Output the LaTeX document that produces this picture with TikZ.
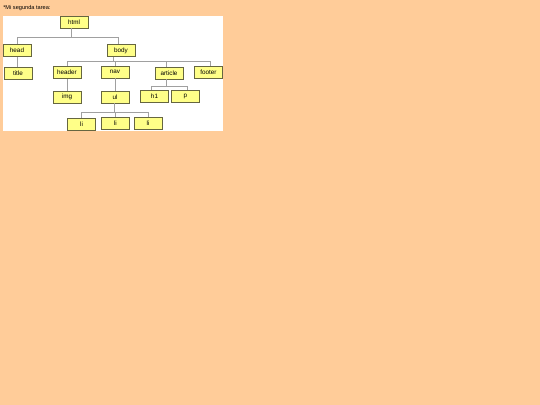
\documentclass[tikz,border=0pt]{standalone}
\usepackage{fontspec}
\setmainfont{Liberation Sans}
\usepackage{tikz}
\usetikzlibrary{positioning,calc}

\definecolor{pagebg}{HTML}{FFCC99}
\definecolor{boxfill}{HTML}{FFFF88}
\definecolor{boxline}{HTML}{666640}
\definecolor{edgegray}{HTML}{A0A0A0}

\begin{document}
\begin{tikzpicture}[
    x=0.025cm, y=-0.025cm,
    tag/.style={rectangle, draw=boxline, fill=boxfill, line width=0.7pt, minimum width=0.7cm, minimum height=0.3cm, inner sep=0pt, text centered, font=\fontsize{4.5}{5}\selectfont},
    edge/.style={draw=edgegray, line width=0.4pt}
]
    % Page and panel
    \fill[pagebg] (0,0) rectangle (540,405);
    \useasboundingbox (0,0) rectangle (540,405);
    \fill[white] (3,16) rectangle (223,131);
    \node[anchor=west, inner sep=0pt, font=\fontsize{4}{5}\selectfont] (caption) at (3,8) {*Mi segunda tarea:};

    % Tags
    \node[tag] (html) at (74,22) {html};
    \node[tag] (head) at (17,50.5) {head};
    \node[tag] (body) at (121,50.5) {body};
    \node[tag] (title) at (18,73.5) {title};
    \node[tag] (header) at (67,72.5) {header};
    \node[tag] (nav) at (115,72) {nav};
    \node[tag] (article) at (169,73) {article};
    \node[tag] (footer) at (208.5,72) {footer};
    \node[tag] (img) at (67,97) {img};
    \node[tag] (ul) at (115,97) {ul};
    \node[tag] (h1) at (154.5,96.5) {h1};
    \node[tag] (p) at (185.5,96.5) {p};
    \node[tag] (li1) at (81.5,124) {li};
    \node[tag] (li2) at (115.5,123.5) {li};
    \node[tag] (li3) at (148,123.5) {li};

    % Connectors
    \draw[edge] ($(html.south)+(-3,0)$) -- ++(0,9) coordinate (hj);
    \draw[edge] (hj) -| (head.north);
    \draw[edge] (hj) -| ($(body.north)+(-3,0)$);
    \draw[edge] (head.south) -- (title.north -| head.south);
    \draw[edge] ($(body.south)+(-8,0)$) -- ++(0,4.5) coordinate (bj);
    \draw[edge] (bj) -| (header.north);
    \draw[edge] (bj) -| (nav.north);
    \draw[edge] (bj) -| ($(article.north)+(-3,0)$);
    \draw[edge] (bj) -| ($(footer.north)+(1.5,0)$);
    \draw[edge] (header.south) -- (img.north);
    \draw[edge] (nav.south) -- (ul.north);
    \draw[edge] ($(article.south)+(-3,0)$) -- ++(0,6.5) coordinate (aj);
    \draw[edge] (aj) -| ($(h1.north)+(-3,0)$);
    \draw[edge] (aj) -| ($(p.north)+(1.5,0)$);
    \draw[edge] ($(ul.south)+(-1,0)$) -- ++(0,9) coordinate (uj);
    \draw[edge] (uj) -| (li1.north);
    \draw[edge] (uj) -| (li2.north);
    \draw[edge] (uj) -| (li3.north);
\end{tikzpicture}
\end{document}
